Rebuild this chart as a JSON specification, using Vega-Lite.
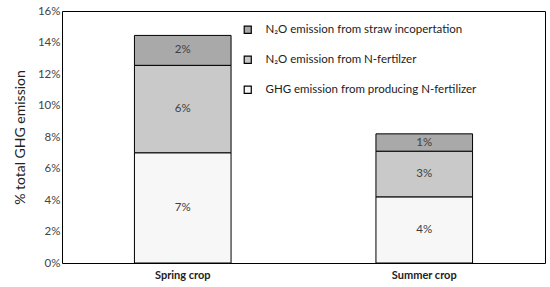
{
  "$schema": "https://vega.github.io/schema/vega-lite/v6.json",
  "width": 483,
  "height": 252,
  "autosize": {"type": "none"},
  "padding": {"left": 62, "top": 11, "right": 5, "bottom": 24},
  "background": "white",
  "config": {
    "font": "Lato",
    "view": {"stroke": "#000000", "strokeWidth": 1},
    "axis": {"grid": false, "ticks": false, "domain": false, "labelColor": "#444444", "labelFontSize": 11, "titleFontWeight": "normal", "titleColor": "#222222"}
  },
  "data": {
    "values": [
      {"crop": "Spring crop", "source": "GHG emission from producing N-fertilizer", "value": 7.0, "label": "7%"},
      {"crop": "Spring crop", "source": "N₂O emission from N-fertilzer", "value": 5.55, "label": "6%"},
      {"crop": "Spring crop", "source": "N₂O emission from straw incopertation", "value": 1.9, "label": "2%"},
      {"crop": "Summer crop", "source": "GHG emission from producing N-fertilizer", "value": 4.2, "label": "4%"},
      {"crop": "Summer crop", "source": "N₂O emission from N-fertilzer", "value": 2.9, "label": "3%"},
      {"crop": "Summer crop", "source": "N₂O emission from straw incopertation", "value": 1.1, "label": "1%"}
    ]
  },
  "encoding": {
    "x": {"field": "crop", "type": "nominal", "title": null,
      "scale": {"paddingInner": 0.6, "paddingOuter": 0.3},
      "axis": {"labelAngle": 0, "labelFontWeight": "bold", "labelColor": "#222222", "labelPadding": 6}},
    "y": {"field": "value", "type": "quantitative", "stack": "zero",
      "scale": {"domain": [0, 16]},
      "title": "% total GHG emission",
      "axis": {"values": [0, 2, 4, 6, 8, 10, 12, 14, 16], "labelExpr": "datum.value + '%'", "titleFontSize": 14, "labelFontSize": 11.5, "titlePadding": 10}},
    "order": {"field": "source", "sort": "ascending"}
  },
  "layer": [
    {
      "mark": {"type": "bar", "stroke": "#000000", "strokeWidth": 1},
      "encoding": {
        "color": {"field": "source", "type": "nominal",
          "scale": {"domain": ["N₂O emission from straw incopertation", "N₂O emission from N-fertilzer", "GHG emission from producing N-fertilizer"],
                    "range": ["#a9a9a9", "#c9c9c9", "#f7f7f7"]},
          "legend": {"title": null, "orient": "none", "legendX": 180, "legendY": 13, "symbolType": "square", "symbolSize": 50, "symbolStrokeColor": "#000000", "symbolStrokeWidth": 1.2, "labelFontSize": 11.5, "labelColor": "#222222", "labelLimit": 0, "rowPadding": 17, "labelOffset": 12, "symbolOpacity": 1}}
      }
    },
    {
      "mark": {"type": "text", "color": "#404040", "fontSize": 11.5},
      "encoding": {
        "y": {"field": "value", "type": "quantitative", "stack": "zero", "bandPosition": 0.5},
        "text": {"field": "label"}
      }
    }
  ]
}
